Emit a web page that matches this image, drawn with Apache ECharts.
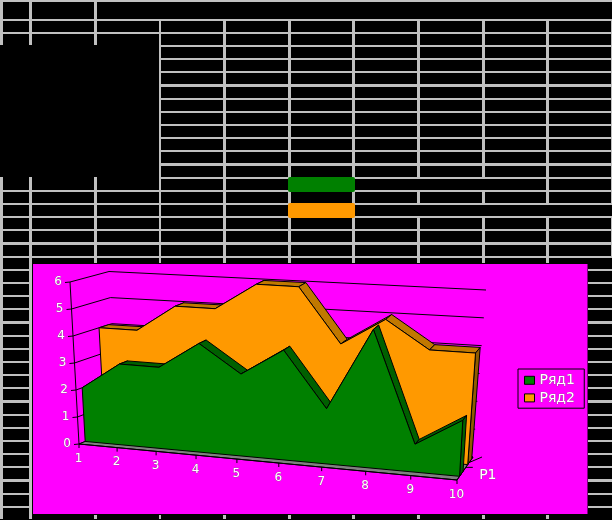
<!DOCTYPE html>
<html>
<head>
<meta charset="utf-8">
<style>html,body{margin:0;padding:0;background:#000}#c{width:612px;height:520px}</style>
<script src="https://cdn.jsdelivr.net/npm/echarts@6/dist/echarts.min.js"></script>
</head>
<body>
<div id="c"></div>
<script>
// chart data
const categories = ['1','2','3','4','5','6','7','8','9','10'];
const valueTicks = [0,1,2,3,4,5,6];
const seriesName1 = 'Ряд1';
const seriesName2 = 'Ряд2';
const depthLabel = 'Р1';
const series1Values = [2,3,3,4,3,4,2,5,1,2];
const series2Values = [4,4,5,5,6,6,4,5,4,4];

// sheet backdrop
const colStarts = [0,29,94,159,223,288,352,417,482,546,611];
const rowBands = [[0,2],[19,2],[32,2],[45,2],[58,2],[71,2],[84,3],[98,2],[111,2],[124,2],[137,2],[150,2],[163,3],[177,2],[190,2],[203,2],[216,2],[229,2],[242,3],[256,2],
  [269,2],[282,2],[295,2],[308,2],[321,3],[335,2],[348,2],[361,2],[374,2],[387,2],[400,3],[414,2],[427,2],[440,2],[453,2],[466,2],[479,3],[493,2],[506,2]];
const GRAY='#c0c0c0', BLACK='#000', MAGENTA='#ff00ff', GREEN='#008000', ORANGE='#ff9900';
const back=[];
function R(x,y,w,h,fill,r){back.push({type:'rect',silent:true,z:-5,shape:{x,y,width:w,height:h,r:r||0},style:{fill}});}
rowBands.forEach(([y,h])=>{
  if(y<258){ const x0=(y>=45&&y<=177)?160:0; R(x0,y,612-x0,h,GRAY); }
  else { R(0,y,32,h,GRAY); R(588,y,24,h,GRAY); }
});
colStarts.forEach((x,i)=>{
  const w=(i===3||i===10)?(i===10?1:2):3;
  if(i<3){
    R(x,0,w,45,GRAY);
    if(i<2) R(x,177,w,342,GRAY); else { R(x,177,w,86,GRAY); R(x,515,w,4,GRAY); }
  } else if(i===10){ R(x,19,w,239,GRAY); }
  else { R(x,19,w,244,GRAY); R(x,515,w,4,GRAY); }
});
R(355,179,191,11,BLACK);
R(355,205,257,11,BLACK);
R(288,177,67,15,GREEN,2);
R(288,203,67,15,ORANGE,2);
R(33,264,554.5,250,MAGENTA);

// projection of the 3-D box: u along categories, v along values, d along depth
const BOX={FLB:[79,444],FLT:[70,282],FRB:[457,480],FRT:[466,312],BLB:[117.6,428],BLT:[109,271.5],BRB:[473,457],BRT:[486,290]};
const PERSP=1.115;
function proj(u,v,d){
  const s=u/(u+PERSP*(1-u));
  const mix=(a,b,t)=>a+(b-a)*t;
  return [0,1].map(k=>{
    const fb=mix(BOX.FLB[k],BOX.FRB[k],s), ft=mix(BOX.FLT[k],BOX.FRT[k],s);
    const bb=mix(BOX.BLB[k],BOX.BRB[k],s), bt=mix(BOX.BLT[k],BOX.BRT[k],s);
    return mix(mix(fb,ft,v),mix(bb,bt,v),d);
  });
}
function uv(params,api,cat,val){
  const c=api.coord([cat,val]), cs=params.coordSys;
  return [(c[0]-cs.x)/cs.width,(cs.y+cs.height-c[1])/cs.height];
}
function pt(params,api,cat,val,d){const q=uv(params,api,cat,val);return proj(q[0],q[1],d);}
function line(a,b,w){return {type:'line',shape:{x1:a[0],y1:a[1],x2:b[0],y2:b[1]},style:{stroke:BLACK,lineWidth:w||1,fill:null}};}
function poly(points,fill){return {type:'polygon',shape:{points},style:{fill,stroke:BLACK,lineWidth:1,lineJoin:'miter'}};}
const FONT='12px "DejaVu Sans"';
function label(text,x,y,font){return {type:'text',style:{text,x,y,align:'center',verticalAlign:'middle',font:font||FONT,fill:'#fff',stroke:'#8a5a8a',lineWidth:0.6}};}

function wallItem(params,api){
  const v=api.value(1);
  const fl=pt(params,api,0,v,0), bl=pt(params,api,0,v,1), br=pt(params,api,categories.length-1,v,1);
  return {type:'group',children:[
    line([fl[0]-5,fl[1]+0.5],fl), line(fl,bl), line(bl,br),
    label(String(valueTicks[params.dataIndex]),fl[0]-12,fl[1])
  ]};
}
function floorItem(params,api){
  const last=categories.length-1;
  const a=pt(params,api,0,0,0),b=pt(params,api,last,0,0),c=pt(params,api,last,0,1),e=pt(params,api,0,0,1),top=pt(params,api,0,6,0);
  const mid=pt(params,api,last,0,0.55);
  return {type:'group',children:[
    poly([a,b,c,e],'#808080'),
    line(a,top), line(a,b,1), line(b,c),
    line(mid,[mid[0]+7,mid[1]]),
    line([c[0]-5,c[1]+6],[c[0]+9,c[1]]),
    label(depthLabel,mid[0]+22,mid[1]+8,'14px "DejaVu Sans"')
  ]};
}
function catItem(params,api){
  const i=params.dataIndex, a=pt(params,api,i,0,0);
  return {type:'group',children:[
    line(a,[a[0],a[1]+4]),
    label(categories[i],a[0]-0.5,a[1]+14.5)
  ]};
}
function areaItem(front,rear,fill,roof,cap){
  return function(params,api){
    const i=params.dataIndex,n=categories.length,kids=[];
    if(i<n-1){
      const v0=api.value(1,i),v1=api.value(1,i+1);
      kids.push(poly([pt(params,api,i,v0,front),pt(params,api,i+1,v1,front),pt(params,api,i+1,v1,rear),pt(params,api,i,v0,rear)],roof));
    } else {
      const v=api.value(1,i);
      kids.push(poly([pt(params,api,i,v,front),pt(params,api,i,v,rear),pt(params,api,i,0,rear),pt(params,api,i,0,front)],cap));
      const pts=[pt(params,api,0,0,front)];
      for(let k=0;k<n;k++) pts.push(pt(params,api,k,api.value(1,k),front));
      pts.push(pt(params,api,n-1,0,front));
      kids.push(poly(pts,fill));
    }
    return {type:'group',children:kids};
  };
}
const toData=a=>a.map((v,i)=>[i,v]);
const chart=echarts.init(document.getElementById('c'),null,{renderer:'canvas'});
chart.setOption({
  animation:false,
  backgroundColor:BLACK,
  graphic:{elements:back},
  grid:{left:40,right:40,top:40,bottom:40},
  xAxis:{type:'category',data:categories,boundaryGap:false,show:false},
  yAxis:{type:'value',min:0,max:6,interval:1,show:false,splitLine:{show:false}},
  legend:{
    data:[seriesName1,seriesName2],orient:'vertical',left:518,top:369,
    padding:[4,9,3,6],itemGap:3,itemWidth:10,itemHeight:8,icon:'rect',
    borderColor:BLACK,borderWidth:1,selectedMode:false,
    itemStyle:{borderColor:BLACK,borderWidth:1},
    textStyle:{color:'#fff',fontFamily:'DejaVu Sans',fontSize:14,textBorderColor:'#8a5a8a',textBorderWidth:0.6}
  },
  tooltip:{show:false},
  series:[
    {type:'custom',name:'walls',clip:false,z:2,silent:true,data:valueTicks.map(v=>[0,v]),renderItem:wallItem},
    {type:'custom',name:'floor',clip:false,z:3,silent:true,data:[[0,0]],renderItem:floorItem},
    {type:'custom',name:'cats',clip:false,z:3,silent:true,data:categories.map((c,i)=>[i,0]),renderItem:catItem},
    {type:'custom',name:seriesName2,clip:false,z:4,silent:true,itemStyle:{color:ORANGE},data:toData(series2Values),renderItem:areaItem(0.67,0.92,ORANGE,'#c07800','#8f5a00')},
    {type:'custom',name:seriesName1,clip:false,z:5,silent:true,itemStyle:{color:GREEN},data:toData(series1Values),renderItem:areaItem(0.16,0.38,GREEN,'#006000','#006000')}
  ]
});
</script>
</body>
</html>
